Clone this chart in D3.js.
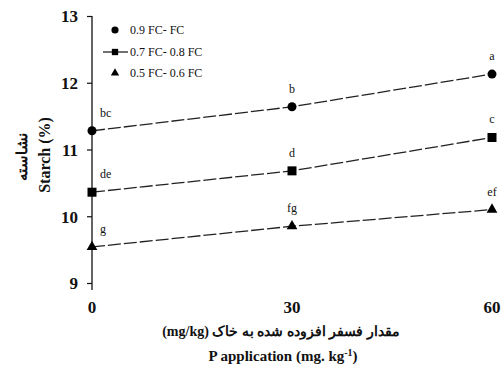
<!DOCTYPE html>
<html>
<head>
<meta charset="utf-8">
<script src="https://cdn.jsdelivr.net/npm/d3@7"></script>
<style>
  html, body { margin: 0; padding: 0; background: #fff; }
  svg { display: block; }
  svg text { font-family: "Liberation Serif", "Times New Roman", Times, serif !important; fill: #111; -webkit-font-smoothing: antialiased; }
</style>
</head>
<body>
<div id="chart"></div>
<script>
// Phosphorus application levels (mg/kg)
const pLevels = [0, 30, 60];
// Starch (%) per irrigation regime
const series = ["0.9 FC- FC", "0.7 FC- 0.8 FC", "0.5 FC- 0.6 FC"];
const starchHigh = [11.28, 11.64, 12.13];
const starchMid = [10.36, 10.68, 11.18];
const starchLow = [9.54, 9.85, 10.10];
// Mean-separation letters
const lettersHigh = ["bc", "b", "a"];
const lettersMid = ["de", "d", "c"];
const lettersLow = ["g", "fg", "ef"];
const yTicks = [9, 10, 11, 12, 13];

const W = 502, H = 370;
const svg = d3.select("#chart").append("svg").attr("width", W).attr("height", H)
  .attr("font-family", "'Liberation Serif', serif");

const x = d3.scaleLinear().domain([0, 60]).range([92, 492]);
const y = d3.scaleLinear().domain([9, 13]).range([283, 16]);

// Y axis (line extends a little below the lowest tick)
svg.append("line").attr("x1", x(0)).attr("x2", x(0))
  .attr("y1", y(13)).attr("y2", y(9) + 7)
  .attr("stroke", "#111").attr("stroke-width", 1.3);
const yAxis = svg.append("g").attr("transform", `translate(${x(0)},0)`)
  .call(d3.axisLeft(y).tickValues(yTicks).tickSize(5).tickFormat(d3.format("d")));
yAxis.attr("font-family", null);
yAxis.select(".domain").remove();
yAxis.selectAll("line").attr("stroke", "#111").attr("stroke-width", 1.2);
yAxis.selectAll("text").attr("x", -14).attr("dy", "0.35em")
  .style("font-size", "17px").style("font-weight", "bold").attr("fill", "#111");

// X tick labels (no axis line)
svg.append("g").selectAll("text").data(pLevels).join("text")
  .attr("x", d => x(d)).attr("y", 313)
  .attr("text-anchor", "middle").attr("fill", "#111")
  .style("font-size", "17px").style("font-weight", "bold")
  .text(d => d);

// Axis titles
svg.append("text").attr("x", 281).attr("y", 336).attr("text-anchor", "middle")
  .attr("direction", "rtl").style("direction", "rtl").style("unicode-bidi", "embed")
  .attr("fill", "#111")
  .style("font-size", "14px").style("font-weight", "bold")
  .text("مقدار فسفر افزوده شده به خاک (mg/kg)");
const xt = svg.append("text").attr("x", 283).attr("y", 361).attr("text-anchor", "middle")
  .attr("fill", "#111")
  .style("font-size", "15px").style("font-weight", "bold");
xt.append("tspan").text("P application (mg. kg");
xt.append("tspan").attr("dy", -5).style("font-size", "10px").text("-1");
xt.append("tspan").attr("dy", 5).text(")");

svg.append("text").attr("transform", "translate(50,155) rotate(-90)")
  .attr("text-anchor", "middle").attr("fill", "#111")
  .style("font-size", "16px").style("font-weight", "bold")
  .text("Starch  (%)");
svg.append("text").attr("transform", "translate(27,157) rotate(-90)")
  .attr("text-anchor", "middle").attr("fill", "#111")
  .style("font-size", "15px").style("font-weight", "bold")
  .text("نشاسته");

// Series
const line = d3.line().x((d, i) => x(pLevels[i])).y(d => y(d));
const data = [
  { vals: starchHigh, letters: lettersHigh, shape: d3.symbolCircle, size: 64 },
  { vals: starchMid, letters: lettersMid, shape: d3.symbolSquare, size: 81 },
  { vals: starchLow, letters: lettersLow, shape: d3.symbolTriangle, size: 50 }
];

data.forEach(s => {
  svg.append("path").attr("d", line(s.vals))
    .attr("fill", "none").attr("stroke", "#222").attr("stroke-width", 1.3)
    .attr("stroke-dasharray", "13,3");
  svg.append("g").selectAll("path").data(s.vals).join("path")
    .attr("transform", (d, i) => `translate(${x(pLevels[i])},${y(d)})`)
    .attr("d", d3.symbol().type(s.shape).size(s.size))
    .attr("fill", "#000");
  svg.append("g").selectAll("text").data(s.vals).join("text")
    .attr("x", (d, i) => i === 0 ? x(pLevels[i]) + 8 : x(pLevels[i]))
    .attr("y", d => y(d) - 14)
    .attr("text-anchor", (d, i) => i === 0 ? "start" : "middle")
    .attr("fill", "#111")
    .style("font-size", "12px")
    .text((d, i) => s.letters[i]);
});

// Legend
const lg = svg.append("g");
const legendRows = [30, 52, 73];
data.forEach((s, i) => {
  if (i === 1) {
    lg.append("line").attr("x1", 103).attr("x2", 128)
      .attr("y1", legendRows[i]).attr("y2", legendRows[i])
      .attr("stroke", "#111").attr("stroke-width", 1.2);
  }
  lg.append("path")
    .attr("transform", `translate(115,${legendRows[i]})`)
    .attr("d", d3.symbol().type(s.shape).size(i === 2 ? 30 : 40))
    .attr("fill", "#000");
  lg.append("text").attr("x", 130).attr("y", legendRows[i] + 4)
    .attr("fill", "#111")
    .style("font-size", "12px")
    .text(series[i]);
});
</script>
</body>
</html>
